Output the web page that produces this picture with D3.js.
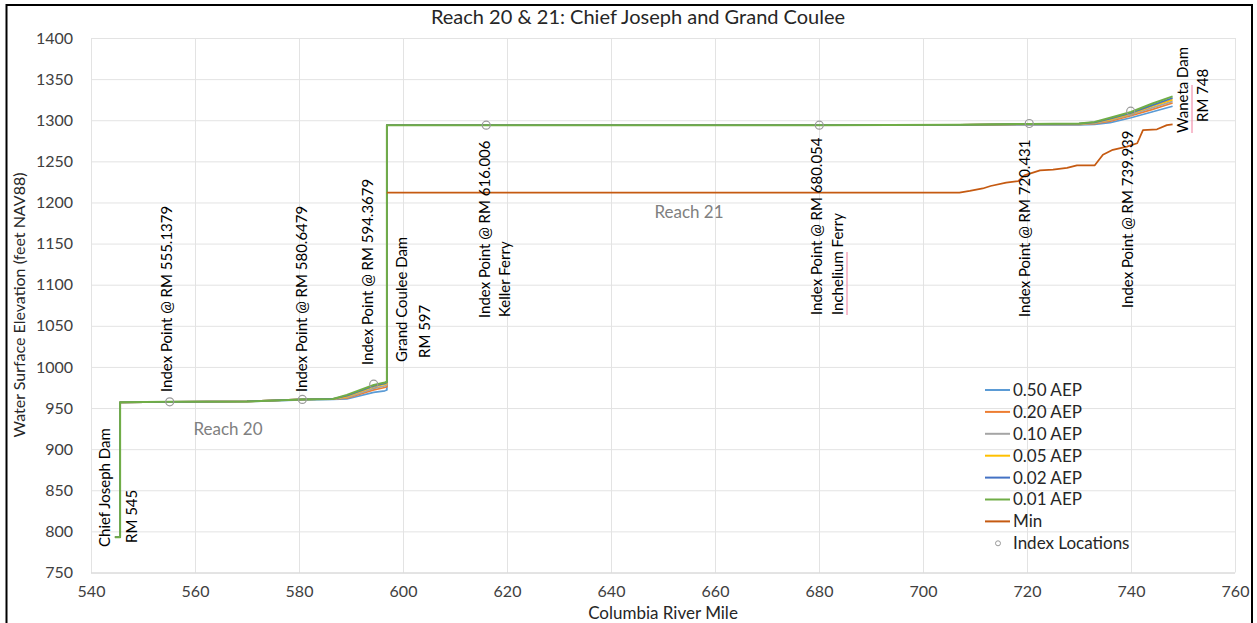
<!DOCTYPE html>
<html><head><meta charset="utf-8">
<script src="https://cdn.jsdelivr.net/npm/d3@7"></script>
<style>
html,body{margin:0;padding:0;background:#fff;}
svg{display:block;font-family:Lato,"Open Sans",sans-serif;}
</style></head>
<body>
<svg id="chart" width="1257" height="623"></svg>
<script>
// ---------- data ----------
const xTicks = [540,560,580,600,620,640,660,680,700,720,740,760];
const yTicks = [750,800,850,900,950,1000,1050,1100,1150,1200,1250,1300,1350,1400];

const riverMile = [544.6,545.6,545.6,555.14,570,580.65,586.5,589.2,594.37,596.5,596.9,596.9,616,680.05,707,720.43,730,733,736,740,744,748];
const aep050 = [793,793,957,957.5,958,960,960.5,961,969,971,972,1294,1294,1294,1294,1294.5,1294.5,1295,1297,1303,1310,1317];
const aep020 = [793,793,957,957.5,958,960.5,961,962,972,975,976,1294,1294,1294,1294.5,1295,1295,1296,1299,1305.5,1313,1321];
const aep010 = [793,793,957,957.5,958,960.5,961,963,974,977,978,1294,1294,1294,1294.5,1295,1295,1296.5,1300,1307,1315,1323];
const aep005 = [793,793,957,957.5,958,960.5,961,964,976,979,980,1294,1294,1294,1294.5,1295.5,1295.5,1297,1301,1308,1317,1325];
const aep002 = [793,793,957,957.5,958,960.5,961,965,977,980,981,1294,1294,1294,1294.5,1295.5,1296,1297.5,1302,1309,1318,1327];
const aep001 = [793,793,957,957.5,958,960.5,961,966,978,981,982,1294,1294,1294,1294.5,1295.5,1296,1298,1303,1310,1320,1329];

const minMile = [596.9,620,660,707,709,711.5,713,716,718.3,719.5,722.5,725,727.7,729.6,733,734.6,736.5,739.2,741.2,742.3,745,746.9,748];
const minElev = [1212,1212,1212,1212,1214,1217,1220,1224,1226,1233,1239,1240,1242,1245,1245,1258,1264,1268,1272,1288,1289,1294,1295];

const indexMile = [555.1379,580.6479,594.3679,616.006,680.054,720.431,739.939];
const indexElev = [957.5,960.5,979,1294,1294,1296,1311];

const seriesNames = ["0.50 AEP","0.20 AEP","0.10 AEP","0.05 AEP","0.02 AEP","0.01 AEP","Min"];
const seriesColors = ["#5b9bd5","#ed7d31","#a5a5a5","#ffc000","#4472c4","#70ad47","#c55a11"];

const chartTitle = "Reach 20 & 21: Chief Joseph and Grand Coulee";
const xTitle = "Columbia River Mile";
const yTitle = "Water Surface Elevation (feet NAV88)";

// annotations: [text, baseline x (px), start y (px)]
const annotations = [
  ["Chief Joseph Dam", 110, 547],
  ["RM 545", 137, 543],
  ["Index Point @ RM 555.1379", 172, 392],
  ["Index Point @ RM 580.6479", 307, 392],
  ["Index Point @ RM 594.3679", 373, 365],
  ["Grand Coulee Dam", 407, 362],
  ["RM 597", 430, 358],
  ["Index Point @ RM 616.006", 490, 318],
  ["Keller Ferry", 510, 317],
  ["Index Point @ RM 680.054", 822, 315],
  ["Inchelium Ferry", 843, 315],
  ["Index Point @ RM 720.431", 1030, 317],
  ["Index Point @ RM 739.939", 1133, 308],
  ["Waneta Dam", 1188, 133],
  ["RM 748", 1208, 122]
];

// ---------- drawing ----------
const svg = d3.select("#chart");
const x = d3.scaleLinear().domain([540,760]).range([91,1235]);
const y = d3.scaleLinear().domain([750,1400]).range([572.5,38]);

svg.append("rect").attr("width",1257).attr("height",623).attr("fill","#fff");

// gridlines
svg.append("g").attr("transform",`translate(0,${y(750)})`)
  .call(d3.axisBottom(x).tickValues(xTicks).tickSize(-(y(750)-y(1400))).tickFormat(""))
  .call(g=>g.select(".domain").remove())
  .call(g=>g.selectAll("line").attr("stroke","#e3e3e3").attr("stroke-width",1));
svg.append("g").attr("transform",`translate(${x(540)},0)`)
  .call(d3.axisLeft(y).tickValues(yTicks).tickSize(-(x(760)-x(540))).tickFormat(""))
  .call(g=>g.select(".domain").remove())
  .call(g=>g.selectAll("line").attr("stroke",d=>d===750?"#c8c8c8":"#e3e3e3").attr("stroke-width",1));

// tick labels
svg.append("g").attr("transform",`translate(0,${y(750)})`)
  .call(d3.axisBottom(x).tickValues(xTicks).tickSize(0).tickPadding(13).tickFormat(d3.format("d")))
  .call(g=>g.select(".domain").remove())
  .call(g=>g.selectAll("text").attr("font-family","Lato").attr("font-size",16).attr("fill","#404040"));
svg.append("g").attr("transform",`translate(${x(540)},0)`)
  .call(d3.axisLeft(y).tickValues(yTicks).tickSize(0).tickPadding(18).tickFormat(d3.format("d")))
  .call(g=>g.select(".domain").remove())
  .call(g=>g.selectAll("text").attr("font-family","Lato").attr("font-size",16).attr("fill","#404040"));

// series lines
const lineGen = d3.line().x(d=>x(d[0])).y(d=>y(d[1]));
const aepSeries = [aep050,aep020,aep010,aep005,aep002,aep001];
aepSeries.forEach((vals,i)=>{
  svg.append("path").datum(riverMile.map((m,k)=>[m,vals[k]]))
    .attr("d",lineGen).attr("fill","none")
    .attr("stroke",seriesColors[i]).attr("stroke-width",i===5?2:1.75)
    .attr("stroke-linejoin","round");
});
svg.append("path").datum(minMile.map((m,k)=>[m,minElev[k]]))
  .attr("d",lineGen).attr("fill","none")
  .attr("stroke",seriesColors[6]).attr("stroke-width",1.75).attr("stroke-linejoin","round");

// index points
svg.append("g").selectAll("circle").data(indexMile.map((m,k)=>[m,indexElev[k]]))
  .join("circle").attr("cx",d=>x(d[0])).attr("cy",d=>y(d[1])).attr("r",4)
  .attr("fill","none").attr("stroke","#9a9a9a").attr("stroke-width",1.2);

// annotations (rotated)
const ann = svg.append("g");
annotations.forEach(a=>{
  ann.append("text").attr("transform",`translate(${a[1]},${a[2]}) rotate(-90)`)
    .attr("font-family","Lato").attr("font-size",15).attr("fill","#000").text(a[0]);
});
// spell-check underlines
ann.append("line").attr("x1",847).attr("x2",847).attr("y1",315).attr("y2",252).attr("stroke","#f07c9c").attr("stroke-width",1);
ann.append("line").attr("x1",1192).attr("x2",1192).attr("y1",133).attr("y2",85).attr("stroke","#f07c9c").attr("stroke-width",1);

// reach labels
svg.append("text").attr("x",228).attr("y",435).attr("text-anchor","middle")
  .attr("font-family","Lato").attr("font-size",17).attr("fill","#808080").text("Reach 20");
svg.append("text").attr("x",689).attr("y",218).attr("text-anchor","middle")
  .attr("font-family","Lato").attr("font-size",17).attr("fill","#808080").text("Reach 21");

// titles
svg.append("text").attr("x",638).attr("y",24).attr("text-anchor","middle")
  .attr("font-family","Lato").attr("font-size",20).attr("fill","#262626").text(chartTitle);
svg.append("text").attr("x",663).attr("y",619).attr("text-anchor","middle")
  .attr("font-family","Lato").attr("font-size",17).attr("fill","#262626").text(xTitle);
svg.append("text").attr("transform","translate(25,305) rotate(-90)").attr("text-anchor","middle")
  .attr("font-family","Lato").attr("font-size",16).attr("fill","#262626").text(yTitle);

// legend
const leg = svg.append("g");
seriesNames.forEach((n,i)=>{
  const ly = 390 + i*21.9;
  leg.append("line").attr("x1",985).attr("x2",1010).attr("y1",ly).attr("y2",ly)
    .attr("stroke",seriesColors[i]).attr("stroke-width",2);
  leg.append("text").attr("x",1013).attr("y",ly).attr("dy","0.35em")
    .attr("font-family","Lato").attr("font-size",17).attr("fill","#262626").text(n);
});
const lyIdx = 390 + 7*21.9;
leg.append("circle").attr("cx",998).attr("cy",lyIdx).attr("r",2.5)
  .attr("fill","none").attr("stroke","#9a9a9a").attr("stroke-width",1);
leg.append("text").attr("x",1013).attr("y",lyIdx).attr("dy","0.35em")
  .attr("font-family","Lato").attr("font-size",17).attr("fill","#262626").text("Index Locations");

// outer border
svg.append("rect").attr("x",6.5).attr("y",5).attr("width",1245.5).attr("height",640)
  .attr("fill","none").attr("stroke","#000").attr("stroke-width",2);
</script>
</body></html>
